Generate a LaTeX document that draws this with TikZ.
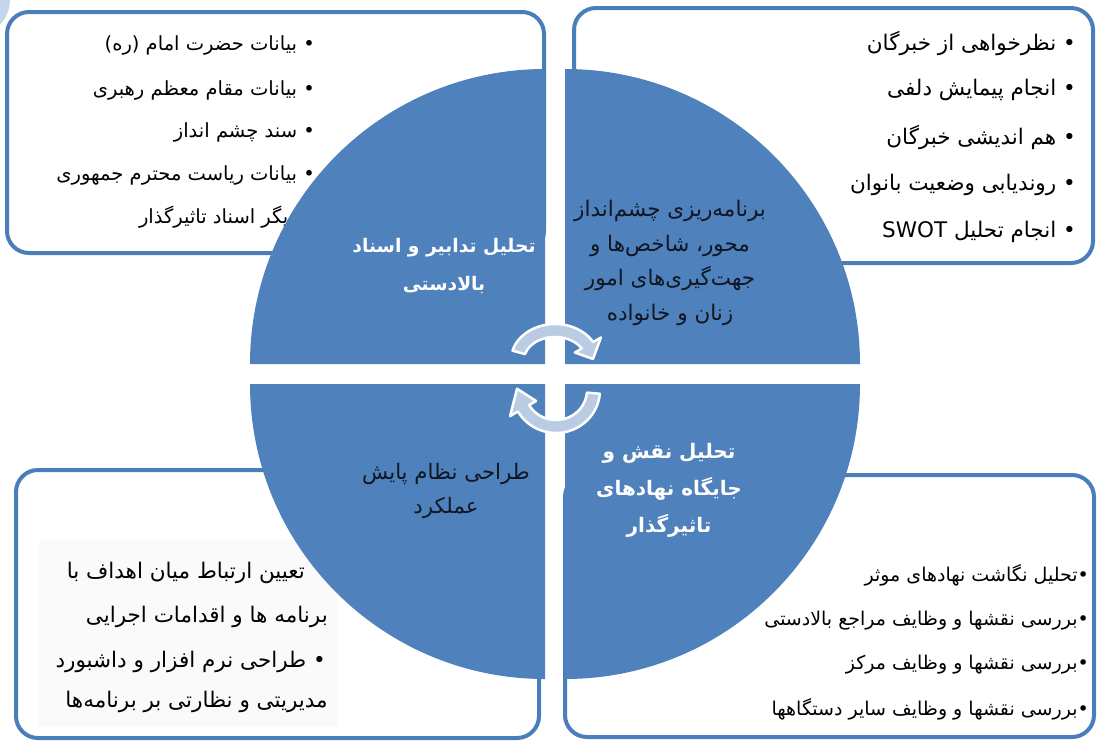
\documentclass[tikz,border=0pt]{standalone}
\usepackage{fontspec}
\usepackage{tikz}
\usetikzlibrary{positioning}
\TeXXeTstate=1
\newfontfamily\farsi[Script=Arabic]{DejaVu Sans}
\definecolor{quadblue}{RGB}{79,129,189}
\definecolor{boxblue}{RGB}{74,126,187}
\definecolor{arrowfill}{RGB}{185,204,228}
\definecolor{darktext}{RGB}{16,22,34}
\definecolor{ghostblue}{RGB}{196,213,236}
\newcommand{\fa}[1]{\beginR#1\endR}

\begin{document}
\begin{tikzpicture}[x=1pt,y=-1pt]
\tikzset{infobox/.style = {draw=boxblue,line width=4pt,fill=white,rounded corners=22pt}}
\tikzset{quadrant/.style = {fill=quadblue}}
\tikzset{cyclearrow/.style = {fill=arrowfill,draw=white,line width=2.5pt,line join=round}}
\tikzset{item/.style = {anchor=east,inner sep=0pt,font=\farsi\fontsize{#1}{24}\selectfont}, item/.default=19}
\tikzset{quadtext/.style = {align=center,inner sep=0pt}}
\useasboundingbox (0,0) rectangle (1097,742);
\fill[ghostblue] (-25,0) circle[radius=35];

% boxes
\draw[infobox] (7,12) rectangle (544,253);
\draw[infobox] (574,8) rectangle (1093,263);
\draw[infobox] (16,470) rectangle (539,738);
\draw[infobox] (565,475) rectangle (1094,737);
\fill[black!2] (39,540) rectangle (337,727);

% box items
\node[item=19.5] (tl1) at (315,45) {\fa{• بیانات حضرت امام (ره)}};
\node[item=19.5] (tl2) at (315,90) {\fa{• بیانات مقام معظم رهبری}};
\node[item=19.5] (tl3) at (315,132) {\fa{• سند چشم انداز}};
\node[item=19.5] (tl4) at (315,175) {\fa{• بیانات ریاست محترم جمهوری}};
\node[item=19.5] (tl5) at (315,217) {\fa{• دیگر اسناد تاثیرگذار}};

\node[item=21.5] (tr1) at (1076,43) {\fa{• نظرخواهی از خبرگان}};
\node[item=21.5] (tr2) at (1076,90) {\fa{• انجام پیمایش دلفی}};
\node[item=21.5] (tr3) at (1076,137) {\fa{• هم اندیشی خبرگان}};
\node[item=21.5] (tr4) at (1076,185) {\fa{• روندیابی وضعیت بانوان}};
\node[item=21.5] (tr5) at (1076,232) {\fa{• انجام تحلیل \beginL SWOT\endL}};

\node[item=21.5] (bl1) at (305,573) {\fa{تعیین ارتباط میان اهداف با}};
\node[item=21.5] (bl2) at (328,617) {\fa{برنامه ها و اقدامات اجرایی}};
\node[item=21.5] (bl3) at (326,662) {\fa{• طراحی نرم افزار و داشبورد}};
\node[item=21.5] (bl4) at (328,702) {\fa{مدیریتی و نظارتی بر برنامه‌ها}};

\node[item] (br1) at (1089,575) {\fa{•تحلیل نگاشت نهادهای موثر}};
\node[item] (br2) at (1089,621) {\fa{•بررسی نقشها و وظایف مراجع بالادستی}};
\node[item] (br3) at (1089,665) {\fa{•بررسی نقشها و وظایف مرکز}};
\node[item] (br4) at (1089,709) {\fa{•بررسی نقشها و وظایف سایر دستگاهها}};

% circle in four parts
\fill[quadrant] (545,364) -- (250,364) arc[start angle=180,end angle=270,radius=295] -- cycle;
\fill[quadrant] (565,364) -- (565,69) arc[start angle=270,end angle=360,radius=295] -- cycle;
\fill[quadrant] (565,384) -- (860,384) arc[start angle=0,end angle=90,radius=295] -- cycle;
\fill[quadrant] (545,384) -- (545,679) arc[start angle=90,end angle=180,radius=295] -- cycle;

\node[quadtext,white,font=\farsi\bfseries\fontsize{18.7}{38}\selectfont] (qtl) at (444,266)
  {\fa{تحلیل تدابیر و اسناد}\\\fa{بالادستی}};
\node[quadtext,darktext,font=\farsi\fontsize{21.5}{34.5}\selectfont] (qtr) at (670,263)
  {\fa{برنامه‌ریزی چشم‌انداز}\\\fa{محور، شاخص‌ها و}\\\fa{جهت‌گیری‌های امور}\\\fa{زنان و خانواده}};
\node[quadtext,darktext,font=\farsi\fontsize{21.3}{33}\selectfont] (qbl) at (446,491)
  {\fa{طراحی نظام پایش}\\\fa{عملکرد}};
\node[quadtext,white,font=\farsi\bfseries\fontsize{20}{37}\selectfont] (qbr) at (669,490)
  {\fa{تحلیل نقش و}\\\fa{جایگاه نهادهای}\\\fa{تاثیرگذار}};

% turning arrows
\draw[cyclearrow,shift={(555,360)}] (195:44 and 36)
  arc[start angle=195,end angle=330,x radius=44,y radius=36]
  -- (330:53 and 45) -- (358:38 and 30) -- (330:23 and 15) -- (330:31 and 23)
  arc[start angle=330,end angle=195,x radius=31,y radius=23] -- cycle;
\draw[cyclearrow,shift={(556,390)}] (5:44 and 43)
  arc[start angle=5,end angle=150,x radius=44,y radius=43]
  -- (150:53 and 52) -- (182:39 and 38) -- (150:23 and 22) -- (150:31 and 30)
  arc[start angle=150,end angle=5,x radius=31,y radius=30] -- cycle;
\end{tikzpicture}
\end{document}
